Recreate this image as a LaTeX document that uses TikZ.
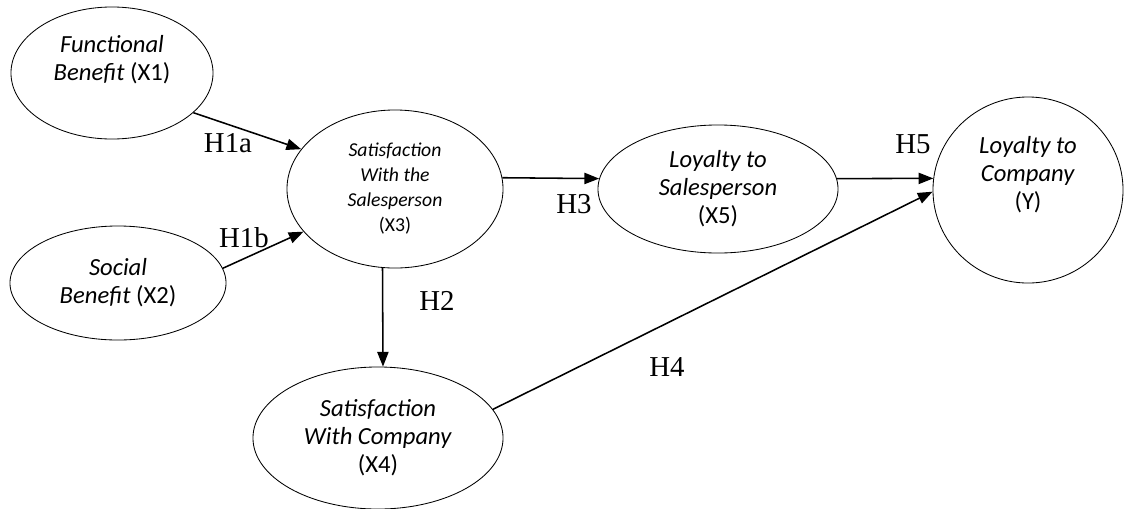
\documentclass[tikz,border=0pt]{standalone}
\usepackage{fontspec}
\setmainfont{Liberation Serif}
\newfontfamily\calibri{Carlito}
\usepackage{tikz}
\usetikzlibrary{arrows.meta, positioning, shapes.geometric}

\begin{document}
\begin{tikzpicture}[x=0.025cm, y=-0.025cm,
  construct/.style={ellipse, draw, line width=0.6pt, inner sep=0pt, align=center,
    font=\calibri\fontsize{17.5}{20}\selectfont},
  path/.style={line width=1.1pt, -{Triangle[length=10.5pt, width=8pt]}},
  hlabel/.style={font=\fontsize{20.5}{22}\selectfont}]
\useasboundingbox (0,0) rectangle (1133,508);

\node[construct, minimum width=5.05cm, minimum height=3.3cm, text depth=21pt] (x1) at (112,73) {\textit{Functional}\\\textit{Benefit} (X1)};
\node[construct, minimum width=5.4cm, minimum height=2.85cm] (x2) at (118,283) {\textit{Social}\\\textit{Benefit} (X2)};
\node[construct, minimum width=5.4cm, minimum height=3.95cm, font=\calibri\fontsize{14}{17.8}\selectfont] (x3) at (395,189) {\textit{Satisfaction}\\\textit{With the}\\\textit{Salesperson}\\(X3)};
\node[construct, minimum width=6.25cm, minimum height=3.55cm] (x4) at (378,438) {\textit{Satisfaction}\\\textit{With Company}\\(X4)};
\node[construct, minimum width=6cm, minimum height=3.2cm] (x5) at (718,189) {\textit{Loyalty to}\\\textit{Salesperson}\\(X5)};
\node[construct, minimum width=4.75cm, minimum height=4.65cm, text depth=24pt] (y) at (1028,190) {\textit{Loyalty to}\\\textit{Company}\\(Y)};

\draw[path] (x1.-26) -- (x3.157);
\draw[path] (x2.8) -- (x3.205);
\draw[path] (x3.-99) -- (x4.86);
\draw[path] (x3.6) -- (x5.175);
\draw[path] (x5.5) -- (y.173);
\draw[path] (x4.14) -- (y.181);

\node[hlabel] (h1a) at (228,143) {H1a};
\node[hlabel] (h1b) at (244,238) {H1b};
\node[hlabel] (h2) at (437,301) {H2};
\node[hlabel] (h3) at (574,204) {H3};
\node[hlabel] (h4) at (667,367) {H4};
\node[hlabel] (h5) at (913,144) {H5};
\end{tikzpicture}
\end{document}
